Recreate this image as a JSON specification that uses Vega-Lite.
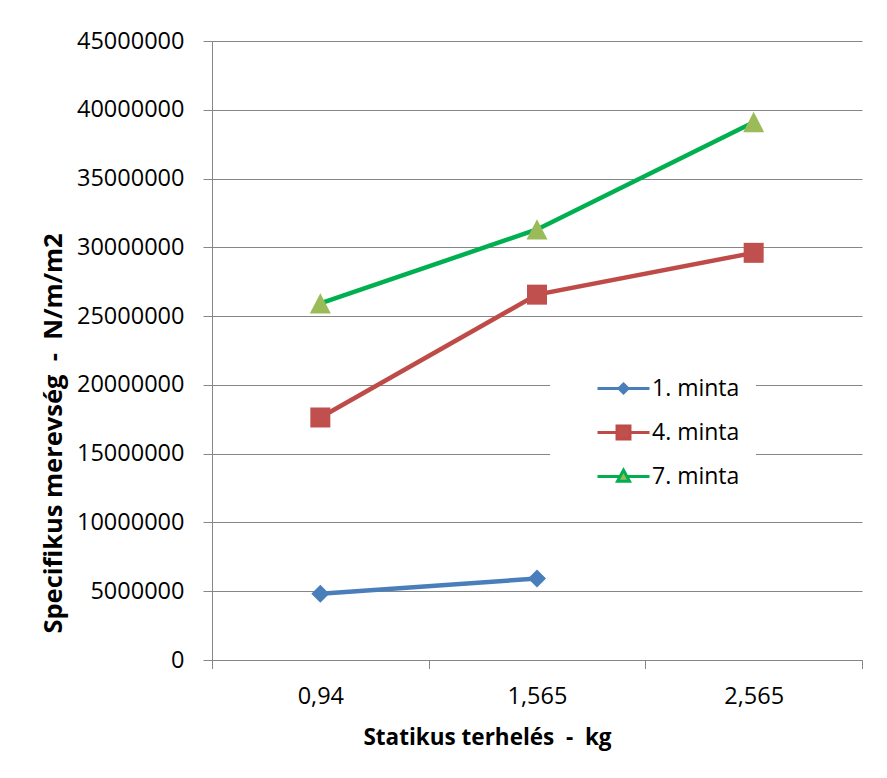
{
  "$schema": "https://vega.github.io/schema/vega-lite/v6.json",
  "width": 650,
  "height": 619,
  "autosize": {"type": "none"},
  "padding": {"left": 212, "top": 41, "right": 25, "bottom": 118},
  "background": "white",
  "config": {"view": {"stroke": null}, "font": "Open Sans"},
  "data": {
    "values": [
      {"terheles": "0,94", "minta": "1. minta", "ertek": 4810000},
      {"terheles": "1,565", "minta": "1. minta", "ertek": 5920000},
      {"terheles": "0,94", "minta": "4. minta", "ertek": 17630000},
      {"terheles": "1,565", "minta": "4. minta", "ertek": 26560000},
      {"terheles": "2,565", "minta": "4. minta", "ertek": 29600000},
      {"terheles": "0,94", "minta": "7. minta", "ertek": 25920000},
      {"terheles": "1,565", "minta": "7. minta", "ertek": 31300000},
      {"terheles": "2,565", "minta": "7. minta", "ertek": 39100000}
    ]
  },
  "encoding": {
    "x": {
      "field": "terheles",
      "type": "nominal",
      "sort": ["0,94", "1,565", "2,565"],
      "scale": {"domain": ["0,94", "1,565", "2,565"], "paddingInner": 0, "paddingOuter": 0},
      "axis": {
        "labelAngle": 0,
        "tickBand": "extent",
        "grid": false,
        "tickSize": 8.5,
        "tickColor": "#868686",
        "tickWidth": 1,
        "domainColor": "#868686",
        "domainWidth": 1,
        "labelPadding": 16,
        "labelFont": "Open Sans",
        "labelFontSize": 23.5,
        "labelColor": "black",
        "title": "Statikus terhelés\u00a0\u00a0-\u00a0\u00a0kg",
        "titleFont": "Open Sans",
        "titleFontSize": 22.5,
        "titleFontWeight": "bold",
        "titleColor": "black",
        "titleX": 275,
        "titleY": 77,
        "titleBaseline": "middle",
        "titleAlign": "center"
      }
    },
    "y": {
      "field": "ertek",
      "type": "quantitative",
      "scale": {"domain": [0, 45000000], "nice": false, "zero": true},
      "axis": {
        "values": [0, 5000000, 10000000, 15000000, 20000000, 25000000, 30000000, 35000000, 40000000, 45000000],
        "format": "d",
        "grid": true,
        "gridColor": "#868686",
        "gridWidth": 1,
        "tickSize": 9,
        "tickColor": "#868686",
        "tickWidth": 1,
        "domainColor": "#868686",
        "domainWidth": 1,
        "labelPadding": 19,
        "labelFont": "Open Sans",
        "labelFontSize": 23.5,
        "labelColor": "black",
        "title": "Specifikus merevség\u00a0\u00a0-\u00a0\u00a0N/m/m2",
        "titleFont": "Open Sans",
        "titleFontSize": 25.5,
        "titleFontWeight": "bold",
        "titleColor": "black",
        "titleX": -159,
        "titleY": 392,
        "titleBaseline": "middle",
        "titleAlign": "center"
      }
    }
  },
  "layer": [
    {
      "mark": {"type": "line", "strokeWidth": 4.5},
      "encoding": {
        "color": {
          "field": "minta",
          "type": "nominal",
          "scale": {"domain": ["1. minta", "4. minta", "7. minta"], "range": ["#4A7EBB", "#BE4B48", "#00B050"]},
          "legend": {
            "orient": "none",
            "legendX": 338,
            "legendY": 320,
            "title": null,
            "fillColor": "white",
            "padding": 16,
            "labelFont": "Open Sans",
            "labelFontSize": 23,
            "labelColor": "black",
            "symbolSize": 256,
            "symbolStrokeWidth": 3,
            "symbolOffset": 46,
            "labelOffset": 17,
            "rowPadding": 19,
            "encode": {
              "symbols": {
                "update": {
                  "shape": {"signal": "datum.value === '1. minta' ? 'M-3.25,0L-0.56,0M0.56,0L3.25,0M0,-0.56L0.56,0L0,0.56L-0.56,0Z' : datum.value === '4. minta' ? 'M-3.25,0L-0.81,0M0.81,0L3.25,0M-0.81,-0.81L0.81,-0.81L0.81,0.81L-0.81,0.81Z' : 'M-3.25,0L-0.45,0M0.45,0L3.25,0M0,-0.8L0.75,0.6L-0.75,0.6Z'"},
                  "fill": {"signal": "datum.value === '1. minta' ? '#4A7EBB' : datum.value === '4. minta' ? '#C0504D' : '#9BBB59'"},
                  "stroke": {"signal": "datum.value === '1. minta' ? '#4A7EBB' : datum.value === '4. minta' ? '#BE4B48' : '#00B050'"},
                  "strokeWidth": {"value": 3},
                  "opacity": {"value": 1},
                  "fillOpacity": {"value": 1},
                  "strokeOpacity": {"value": 1}
                }
              }
            }
          }
        }
      }
    },
    {
      "transform": [{"filter": "datum.minta === '1. minta'"}],
      "mark": {"type": "point", "filled": true, "opacity": 1, "size": 400, "strokeWidth": 0, "shape": "M0,-0.9L0.9,0L0,0.9L-0.9,0Z", "fill": "#4A7EBB"}
    },
    {
      "transform": [{"filter": "datum.minta === '4. minta'"}],
      "mark": {"type": "point", "filled": true, "opacity": 1, "size": 400, "strokeWidth": 0, "shape": "M-1,-1L1,-1L1,1L-1,1Z", "fill": "#C0504D"}
    },
    {
      "transform": [{"filter": "datum.minta === '7. minta'"}],
      "mark": {"type": "point", "filled": true, "opacity": 1, "size": 400, "strokeWidth": 0, "shape": "M0,-1.03L1.05,1L-1.05,1Z", "fill": "#9BBB59"}
    }
  ]
}
